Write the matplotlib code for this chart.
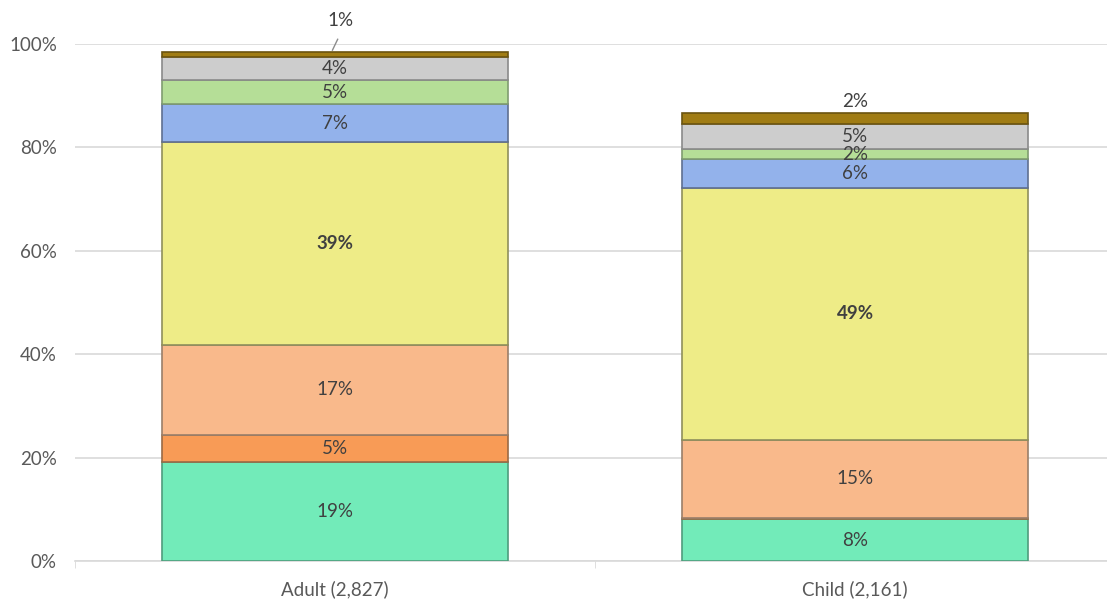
import matplotlib
matplotlib.use("Agg")
import matplotlib.pyplot as plt
import numpy as np

plt.rcParams['font.family'] = ['Lato', 'DejaVu Sans']

# categories and stacked shares (%), bottom to top
groups = ["Adult (2,827)", "Child (2,161)"]
seg_names = ["mint", "dark orange", "light orange", "yellow", "blue", "light green", "gray", "brown"]
adult = [19.1, 5.3, 17.4, 39.2, 7.3, 4.8, 4.4, 1.0]
child = [8.1, 0.2, 15.2, 48.6, 5.6, 2.0, 4.8, 2.1]
colors = ["#72EBB9", "#F89B56", "#F9B98B", "#EEEC87", "#93B2EB", "#B5DE97", "#CDCDCD", "#A07C14"]
edges = ["#4f9c7c", "#9a6a45", "#9a7f6a", "#8f8f5c", "#5f6f90", "#7f9c70", "#8a8a8a", "#6b5410"]

fig = plt.figure(figsize=(11.07, 6.02), dpi=100)
ax = fig.add_axes([0.0678, 0.068, 0.9395, 0.859])

data = np.array([adult, child])
x = np.arange(len(groups))
bottom = np.zeros(len(groups))
txt_col = "#404040"
fs = 13.5

for j in range(len(seg_names)):
    vals = data[:, j]
    ax.bar(x, vals, width=0.665, bottom=bottom, color=colors[j],
           edgecolor=edges[j], linewidth=1.2, zorder=3)
    for i in range(len(groups)):
        v = vals[i]
        lab = f"{v:.0f}%"
        if v < 0.5:
            pass
        elif j == len(seg_names) - 1:
            # top slice labelled above the bar
            top = bottom[i] + v
            if i == 0:
                ax.text(x[i] + 0.01, top + 4.4, lab, ha="center", va="bottom",
                        fontsize=fs, color=txt_col, clip_on=False)
                ax.plot([x[i] - 0.005, x[i] + 0.005], [top + 0.3, top + 2.4],
                        color="#8c8c8c", lw=1, clip_on=False, zorder=4)
            else:
                ax.text(x[i], top + 0.6, lab, ha="center", va="bottom",
                        fontsize=fs, color=txt_col, clip_on=False)
        else:
            ax.text(x[i], bottom[i] + v / 2, lab, ha="center", va="center",
                    fontsize=fs, color=txt_col, zorder=5,
                    fontweight="bold" if j == 3 else "normal")
    bottom += vals

ax.set_xlim(-0.5, 1.5)
ax.set_ylim(0, 100)
ax.set_yticks(np.arange(0, 101, 20))
ax.set_yticklabels([f"{t}%" for t in range(0, 101, 20)])
ax.set_xticks(x)
ax.set_xticklabels(groups)
ax.set_xticks([-0.5, 0.5, 1.5], minor=True)
ax.tick_params(axis="x", which="major", length=0, pad=14, labelsize=fs, colors="#595959")
ax.tick_params(axis="x", which="minor", length=5, color="#d9d9d9")
ax.tick_params(axis="y", length=0, pad=13, labelsize=fs, colors="#595959")
ax.grid(axis="y", color="#d9d9d9", lw=1.2, zorder=0)
for s in ["top", "right", "left"]:
    ax.spines[s].set_visible(False)
ax.spines["bottom"].set_color("#d9d9d9")
ax.spines["bottom"].set_linewidth(1.2)

fig.savefig("out.png", dpi=100)
